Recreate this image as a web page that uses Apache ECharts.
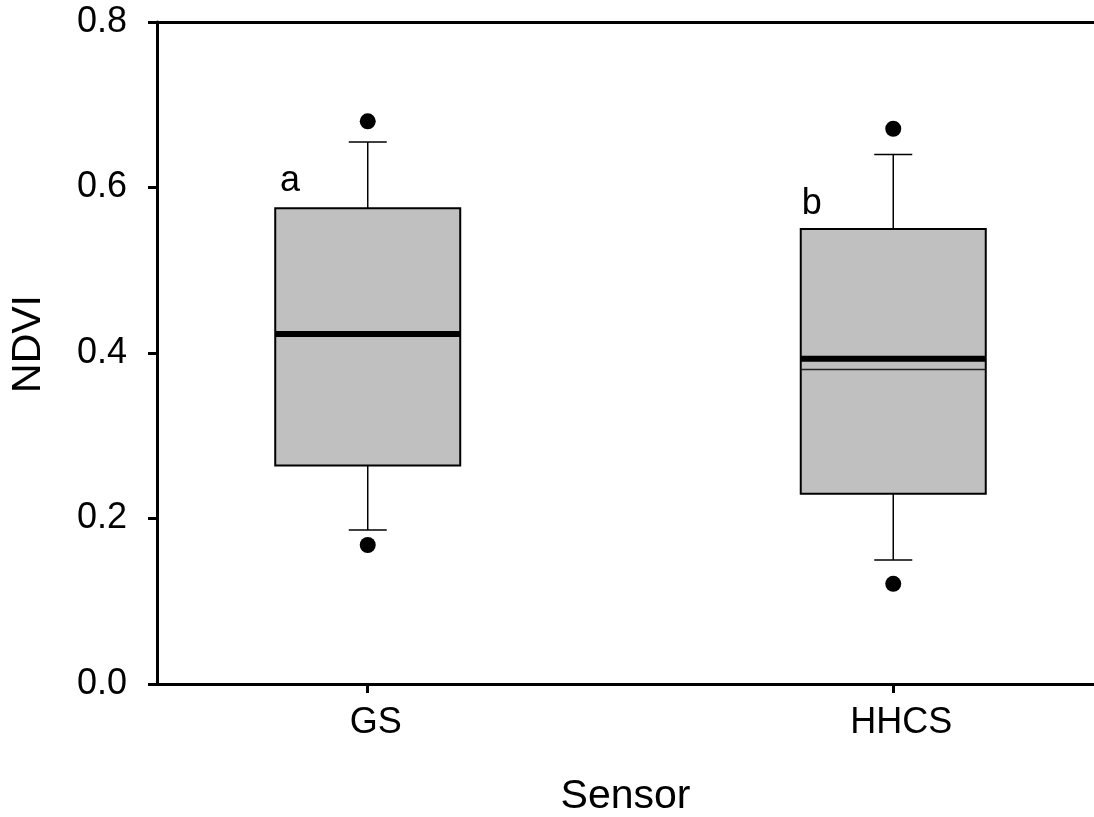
<!DOCTYPE html>
<html>
<head>
<meta charset="utf-8">
<script src="https://cdn.jsdelivr.net/npm/echarts@6/dist/echarts.min.js"></script>
<style>
  html, body { margin: 0; padding: 0; background: #fff; }
  #chart { width: 1094px; height: 817px; }
</style>
</head>
<body>
<div id="chart"></div>
<script>
// categories on the x axis (placed at 0, 1)
const categories = ['GS', 'HHCS']
// box statistics per category
const whiskerLow = [0.186, 0.150]
const q1 = [0.264, 0.230]
const median = [0.423, 0.380]
const mean = [0.423, 0.393]
const q3 = [0.575, 0.550]
const whiskerHigh = [0.655, 0.640]
// outliers: [category index, value]
const outliers = [[0, 0.680], [0, 0.168], [1, 0.671], [1, 0.121]]
// significance letters: [x, y, text]
const letters = [[-0.148, 0.608, 'a'], [0.845, 0.580, 'b']]
// y ticks
const yTicks = [0, 0.2, 0.4, 0.6, 0.8]

const font = 'Liberation Sans, Arial, sans-serif'
const xMin = -0.401
const xMax = 1.382

const boxData = categories.map((c, i) => [i, whiskerLow[i], q1[i], median[i], mean[i], q3[i], whiskerHigh[i]])

const chart = echarts.init(document.getElementById('chart'))

const renderBox = (params, api) => {
  const x = api.value(0)
  const p = (v) => api.coord([x, v])
  const lo = p(api.value(1))
  const b1 = p(api.value(2))
  const med = p(api.value(3))
  const mn = p(api.value(4))
  const b3 = p(api.value(5))
  const hi = p(api.value(6))
  const cx = lo[0]
  const halfBox = 92.5
  const halfCap = 19
  const thin = { stroke: '#000', lineWidth: 1.5 }
  return {
    type: 'group',
    children: [
      { type: 'line', shape: { x1: cx, y1: b3[1], x2: cx, y2: hi[1] }, style: thin },
      { type: 'line', shape: { x1: cx - halfCap, y1: hi[1], x2: cx + halfCap, y2: hi[1] }, style: thin },
      { type: 'line', shape: { x1: cx, y1: b1[1], x2: cx, y2: lo[1] }, style: thin },
      { type: 'line', shape: { x1: cx - halfCap, y1: lo[1], x2: cx + halfCap, y2: lo[1] }, style: thin },
      {
        type: 'rect',
        shape: { x: cx - halfBox, y: b3[1], width: halfBox * 2, height: b1[1] - b3[1] },
        style: { fill: '#c0c0c0', stroke: '#000', lineWidth: 2 }
      },
      { type: 'line', shape: { x1: cx - halfBox, y1: med[1], x2: cx + halfBox, y2: med[1] }, style: { stroke: '#222', lineWidth: 1.5 } },
      { type: 'line', shape: { x1: cx - halfBox, y1: mn[1], x2: cx + halfBox, y2: mn[1] }, style: { stroke: '#000', lineWidth: 6 } }
    ]
  }
}

const option = {
  animation: false,
  backgroundColor: '#fff',
  grid: { left: 157, right: 0, top: 22, bottom: 133, outerBoundsMode: 'none', containLabel: false },
  xAxis: [
    {
      type: 'value',
      min: xMin,
      max: xMax,
      name: 'Sensor',
      nameLocation: 'middle',
      nameGap: 92,
      nameTextStyle: { fontFamily: font, fontSize: 41, color: '#000' },
      splitLine: { show: false },
      axisLine: { show: true, onZero: false, lineStyle: { color: '#000', width: 3 } },
      axisTick: { show: true, inside: false, length: 9, customValues: [0, 1], lineStyle: { color: '#000', width: 3 } },
      axisLabel: {
        customValues: [0, 1],
        margin: 21,
        fontFamily: font,
        fontSize: 36,
        color: '#000',
        padding: [0, 0, 0, 16],
        formatter: (v) => categories[Math.round(v)] || ''
      }
    },
    {
      type: 'value',
      position: 'top',
      min: xMin,
      max: xMax,
      splitLine: { show: false },
      axisLine: { show: true, onZero: false, lineStyle: { color: '#000', width: 3 } },
      axisTick: { show: false },
      axisLabel: { show: false }
    }
  ],
  yAxis: {
    type: 'value',
    min: 0,
    max: 0.8,
    interval: 0.2,
    name: 'NDVI',
    nameLocation: 'middle',
    nameGap: 108,
    nameTextStyle: { fontFamily: font, fontSize: 41, color: '#000', padding: [0, 0, 0, 18] },
    splitLine: { show: false },
    axisLine: { show: true, onZero: false, lineStyle: { color: '#000', width: 3 } },
    axisTick: { show: true, inside: false, length: 9, lineStyle: { color: '#000', width: 3 } },
    axisLabel: {
      margin: 30,
      fontFamily: font,
      fontSize: 36,
      color: '#000',
      formatter: (v) => (yTicks.includes(+v.toFixed(1)) ? v.toFixed(1) : '')
    }
  },
  series: [
    {
      type: 'custom',
      renderItem: renderBox,
      encode: { x: 0, y: [1, 2, 3, 4, 5, 6] },
      data: boxData,
      z: 2
    },
    {
      type: 'scatter',
      data: outliers,
      symbol: 'circle',
      symbolSize: 16,
      itemStyle: { color: '#000', opacity: 1 },
      z: 3
    },
    {
      type: 'scatter',
      data: letters,
      symbolSize: 0,
      itemStyle: { opacity: 1 },
      label: {
        show: true,
        position: 'inside',
        formatter: (p) => p.data[2],
        fontFamily: font,
        fontSize: 36,
        color: '#000'
      },
      z: 3
    }
  ]
}

chart.setOption(option)
</script>
</body>
</html>
